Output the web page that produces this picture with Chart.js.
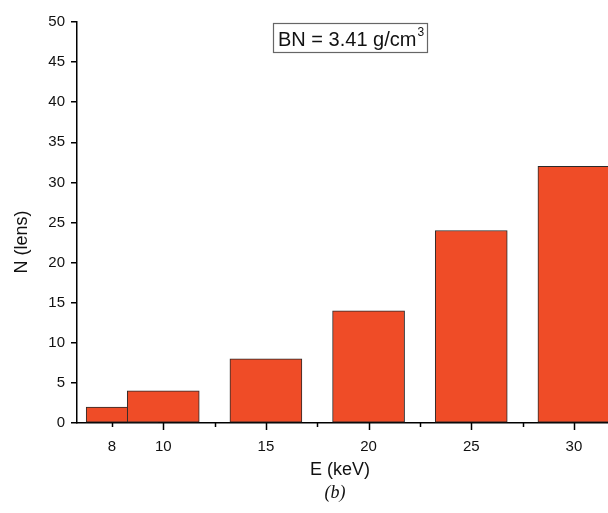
<!DOCTYPE html>
<html lang="en">
<head>
    <meta charset="UTF-8">
    <title>BN lens count vs energy</title>
    <script src="https://cdn.jsdelivr.net/npm/chart.js"></script>
    <style>
        html, body { margin: 0; padding: 0; background: #fff; }
        #wrap { width: 608px; height: 513px; position: relative; }
    </style>
</head>
<body>
    <div id="wrap"><canvas id="chart"></canvas></div>

    <script>
        // data
        const energies = [8, 10, 15, 20, 25, 30];
        const lensCounts = [2, 4, 8, 14, 24, 32];
        const xLabelValues = [7.5, 10, 15, 20, 25, 30];
        const xLabelTexts = ["8", "10", "15", "20", "25", "30"];
        const xMajorTicks = [10, 15, 20, 25, 30];
        const xMinorTicks = [7.5, 12.5, 17.5, 22.5, 27.5];

        const FONT = "'Liberation Sans', Arial, sans-serif";

        // axis titles, x ticks and the label box
        const extras = {
            id: "extras",
            afterDraw(chart) {
                const ctx = chart.ctx;
                const xs = chart.scales.x;
                const area = chart.chartArea;
                ctx.save();
                ctx.strokeStyle = "#000";
                ctx.lineWidth = 1.5;
                xMajorTicks.forEach(v => {
                    const px = Math.round(xs.getPixelForValue(v)) + 0.5;
                    ctx.beginPath();
                    ctx.moveTo(px, area.bottom);
                    ctx.lineTo(px, area.bottom + 7);
                    ctx.stroke();
                });
                xMinorTicks.forEach(v => {
                    const px = Math.round(xs.getPixelForValue(v)) + 0.5;
                    ctx.beginPath();
                    ctx.moveTo(px, area.bottom);
                    ctx.lineTo(px, area.bottom + 4);
                    ctx.stroke();
                });

                ctx.fillStyle = "#111";
                ctx.font = "15px " + FONT;
                ctx.textAlign = "center";
                ctx.textBaseline = "middle";
                xLabelValues.forEach((v, i) => {
                    ctx.fillText(xLabelTexts[i], xs.getPixelForValue(v), area.bottom + 24);
                });

                ctx.font = "18px " + FONT;
                ctx.fillText("E (keV)", 340, 470);

                ctx.save();
                ctx.translate(22, 242);
                ctx.rotate(-Math.PI / 2);
                ctx.fillText("N (lens)", 0, 0);
                ctx.restore();

                ctx.font = "italic 18px 'Liberation Serif', 'Times New Roman', serif";
                ctx.fillText("(b)", 335, 493);

                // BN box
                ctx.strokeStyle = "#666";
                ctx.lineWidth = 1.2;
                ctx.strokeRect(273.5, 23.5, 154, 29);
                ctx.fillStyle = "#111";
                ctx.textAlign = "left";
                ctx.textBaseline = "alphabetic";
                ctx.font = "20px " + FONT;
                const txt = "BN = 3.41 g/cm";
                ctx.fillText(txt, 278, 46);
                const w = ctx.measureText(txt).width;
                ctx.font = "12px " + FONT;
                ctx.fillText("3", 278 + w + 1, 36);
                ctx.restore();
            }
        };

        new Chart(document.getElementById("chart"), {
            type: "bar",
            data: {
                datasets: [{
                    data: energies.map((e, i) => ({ x: e, y: lensCounts[i] })),
                    backgroundColor: "#ef4c27",
                    borderColor: "#2a2a2a",
                    borderWidth: 1,
                    borderSkipped: false,
                    barThickness: 72
                }]
            },
            options: {
                responsive: true,
                maintainAspectRatio: false,
                animation: false,
                layout: { padding: { left: 0, right: 0, top: 22, bottom: 0 } },
                plugins: { legend: { display: false }, tooltip: { enabled: false } },
                scales: {
                    x: {
                        type: "linear",
                        min: 5.8,
                        max: 31.66,
                        offset: false,
                        grid: { display: false },
                        border: { color: "#000", width: 1.5 },
                        ticks: { display: false },
                        afterFit: s => { s.height = 90; }
                    },
                    y: {
                        min: 0,
                        max: 50,
                        ticks: {
                            stepSize: 5,
                            color: "#111",
                            font: { size: 15, family: FONT },
                            padding: 6
                        },
                        grid: {
                            drawOnChartArea: false,
                            drawTicks: true,
                            tickLength: 6,
                            color: "#000",
                            lineWidth: 1.5
                        },
                        border: { color: "#000", width: 1.5 },
                        afterFit: s => { s.width = 77; }
                    }
                }
            },
            plugins: [extras]
        });
    </script>
</body>
</html>
